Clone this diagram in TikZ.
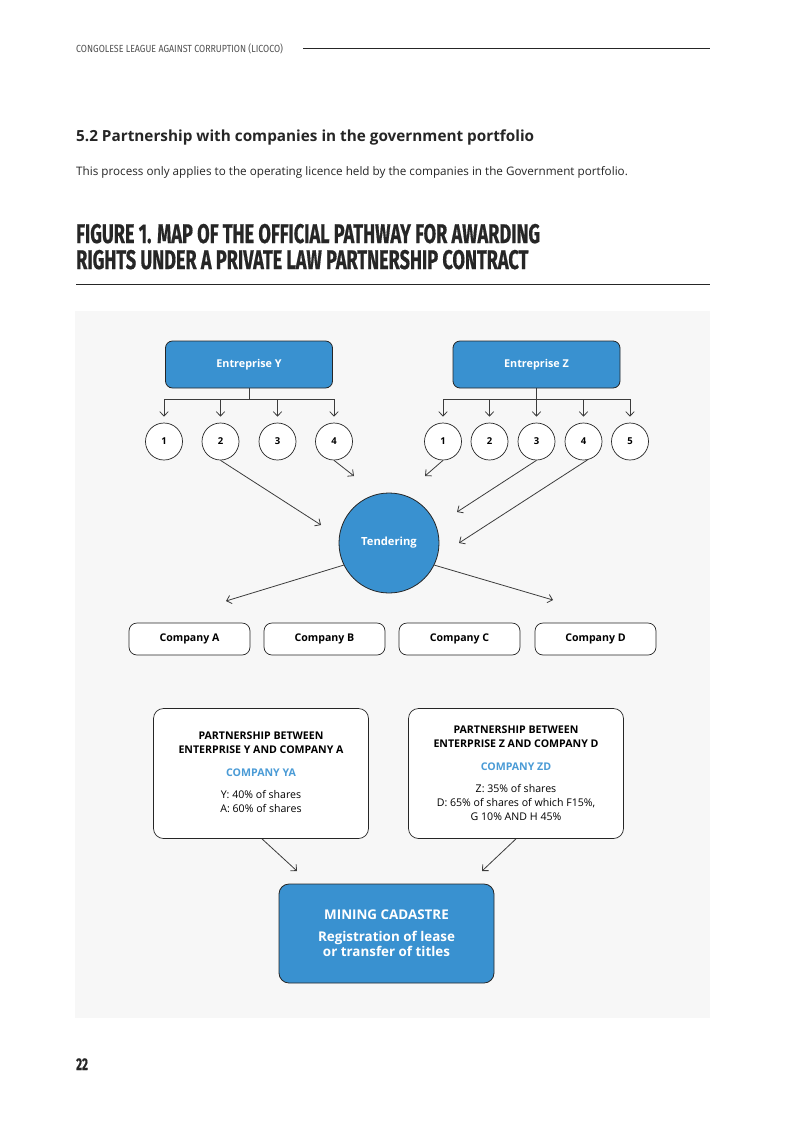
\documentclass[tikz,border=0pt]{standalone}
\usepackage{fontspec}
\setmainfont{Open Sans}
\newfontfamily\condfont[FakeStretch=0.67,FakeBold=0.5]{Fira Sans}
\newfontfamily\headfont[FakeStretch=0.86]{Fira Sans}
\usepackage{tikz}
\usetikzlibrary{
  arrows,
  arrows.meta,
  calc,
  shapes,
  positioning
}
\definecolor{licblue}{RGB}{57,145,208}
\definecolor{licpale}{RGB}{247,247,247}
\definecolor{licink}{RGB}{38,38,38}
\definecolor{licline}{RGB}{60,60,60}
\definecolor{licsky}{RGB}{74,155,214}
\tikzset{
  ent/.style={
    draw=licink, line width=0.8pt, fill=licblue, rounded corners=7pt,
    minimum width=167pt, minimum height=47pt, text=white,
    font=\fontsize{10.8}{12}\selectfont\bfseries},
  num/.style={
    draw=licink, line width=0.7pt, fill=white, circle, minimum size=37pt, inner sep=0pt,
    font=\fontsize{9.5}{11}\selectfont\bfseries},
  comp/.style={
    draw=licink, line width=0.7pt, fill=white, rounded corners=8pt,
    minimum width=121pt, minimum height=32pt,
    font=\fontsize{10.6}{12}\selectfont\bfseries},
  part/.style={
    draw=licink, line width=0.7pt, fill=white, rounded corners=10pt,
    minimum width=215pt, minimum height=130pt},
  parttext/.style={
    align=center, anchor=base, inner sep=0pt,
    font=\fontsize{10.6}{14}\selectfont},
  flow/.style={
    ->, >={Straight Barb[length=4.5pt, width=8.5pt]}, draw=licline, line width=0.8pt}
  }

\begin{document}
\begin{tikzpicture}[x=1pt, y=-1pt]
  \useasboundingbox (0,0) rectangle (794,1122);
  \fill[white] (0,0) rectangle (794,1122);
  \node[anchor=base west, inner sep=0pt, text=licink!80,
    font=\headfont\fontsize{10.3}{12}\selectfont] (hd) at (76,52)
    {CONGOLESE LEAGUE AGAINST CORRUPTION (LICOCO)};
  \coordinate (hdl) at (303,48);
  \coordinate (hdr) at (710,48);
  \draw[licink, line width=0.8pt] (hdl) -- (hdr);
  \node[anchor=base west, inner sep=0pt, text=licink,
    font=\fontsize{15.3}{17}\selectfont\bfseries] (sec) at (76,141)
    {5.2 Partnership with companies in the government portfolio};
  \node[anchor=base west, inner sep=0pt, text=licink,
    font=\fontsize{11.7}{13}\selectfont] (intro) at (76,175)
    {This process only applies to the operating licence held by the companies in the Government portfolio.};
  \node[anchor=base west, inner sep=0pt, align=left, text=licink,
    font=\condfont\fontsize{27}{26}\selectfont\bfseries] (fig) at (76,269)
    {FIGURE 1. MAP OF THE OFFICIAL PATHWAY FOR AWARDING\\
     RIGHTS UNDER A PRIVATE LAW PARTNERSHIP CONTRACT};
  \coordinate (rl) at (76,284);
  \coordinate (rr) at (710,284);
  \draw[licink, line width=1pt] (rl) -- (rr);
  \fill[licpale] (75,311) rectangle (710,1018);

  \node[ent] (ey) at (249,364.5) {Entreprise Y};
  \node[ent] (ez) at (536.5,364.5) {Entreprise Z};
  \foreach \n/\x in {1/164, 2/220.5, 3/277.5, 4/334}
    \node[num] (y\n) at (\x,441.5) {\n};
  \foreach \n/\x in {1/443, 2/489.5, 3/536.5, 4/583.5, 5/630}
    \node[num] (z\n) at (\x,441.5) {\n};
  \coordinate (ybus) at (249,399);
  \coordinate (zbus) at (536.5,399);
  \draw[licline, line width=0.8pt]
    (ey.south) -- (ybus)
    (ybus -| y1) -- (ybus -| y4)
    (ez.south) -- (zbus)
    (zbus -| z1) -- (zbus -| z5);
  \foreach \n in {1,...,4}
    \draw[flow, shorten >=6pt] (ybus -| y\n) -- (y\n.north);
  \foreach \n in {1,...,5}
    \draw[flow, shorten >=6pt] (zbus -| z\n) -- (z\n.north);

  \node[circle, draw=licink, line width=0.8pt, fill=licblue, minimum size=100pt, inner sep=0pt,
    text=white, font=\fontsize{11.2}{13}\selectfont\bfseries] (tend) at (389,543) {Tendering};
  \coordinate (ty2) at (321,525);
  \coordinate (ty4) at (354,476);
  \coordinate (tz1) at (425,476);
  \coordinate (tz3) at (457,512);
  \coordinate (tz4) at (459,543);
  \path
    (y2.south) edge[flow] (ty2)
    (y4.south) edge[flow] (ty4)
    (z1.south) edge[flow] (tz1)
    (z3.south) edge[flow] (tz3)
    (z4.-78) edge[flow] (tz4);

  \node[comp] (ca) at (189.5,639) {Company A};
  \node[comp] (cb) at (324.5,639) {Company B};
  \node[comp] (cc) at (459.5,639) {Company C};
  \node[comp] (cd) at (595.5,639) {Company D};
  \coordinate (ta) at (226,601);
  \coordinate (td) at (553,600);
  \path
    (tend.206) edge[flow] (ta)
    (tend.334) edge[flow] (td);

  \node[part] (pya) at (261,773.5) {};
  \node[part] (pzd) at (516,773.5) {};
  \node[parttext] (pyat) at (261,812)
    {\bfseries PARTNERSHIP BETWEEN\\
     \bfseries ENTERPRISE Y AND COMPANY A\\[9pt]
     \bfseries\color{licsky}COMPANY YA\\[8pt]
     Y: 40\% of shares\\
     A: 60\% of shares};
  \node[parttext] (pzdt) at (516,820)
    {\bfseries PARTNERSHIP BETWEEN\\
     \bfseries ENTERPRISE Z AND COMPANY D\\[9pt]
     \bfseries\color{licsky}COMPANY ZD\\[8pt]
     Z: 35\% of shares\\
     D: 65\% of shares of which F15\%,\\
     G 10\% AND H 45\%};

  \node[draw=licink, line width=0.8pt, fill=licblue, rounded corners=10pt, minimum width=215pt,
    minimum height=99pt, align=center, text=white,
    font=\fontsize{13.4}{15}\selectfont\bfseries] (mc) at (386.5,933.5)
    {MINING CADASTRE\\[7pt]
     Registration of lease\\
     or transfer of titles};
  \coordinate (mcl) at (297,871);
  \coordinate (mcr) at (482,871);
  \path
    ([xshift=1pt]pya.south) edge[flow] (mcl)
    (pzd.south) edge[flow] (mcr);

  \node[anchor=base west, inner sep=0pt, text=licink,
    font=\condfont\fontsize{17}{19}\selectfont\bfseries] (pg) at (76,1070) {22};
\end{tikzpicture}
\end{document}
